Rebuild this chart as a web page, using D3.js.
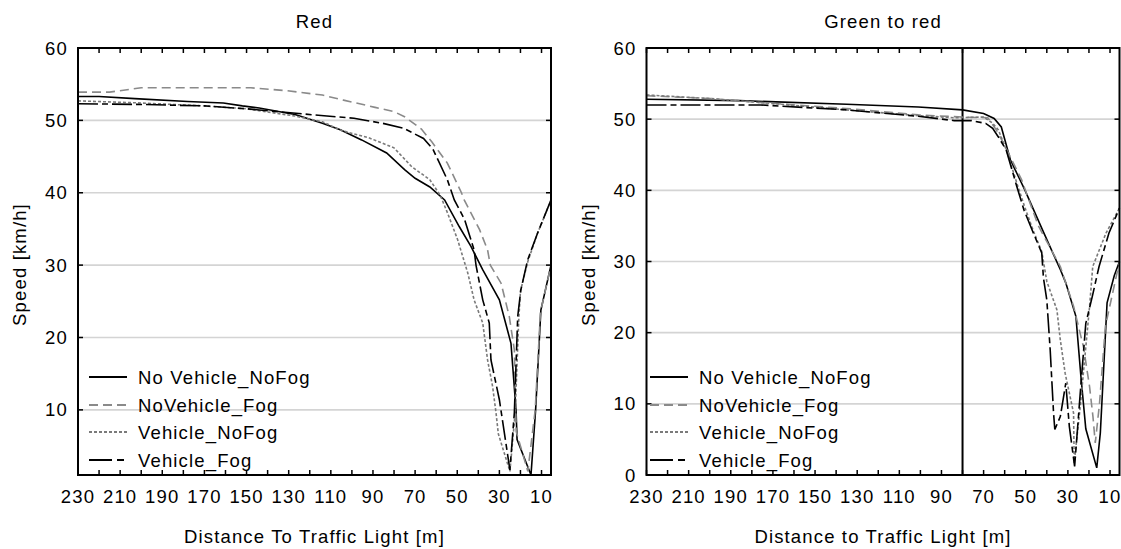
<!DOCTYPE html>
<html>
<head>
<meta charset="utf-8">
<script src="https://cdn.jsdelivr.net/npm/d3@7"></script>
<style>
    body { margin: 0; background: #fff; }
    text { font-family: "Liberation Sans", Arial, sans-serif; font-size: 18.5px; letter-spacing: 1.15px; fill: #000; }
</style>
</head>
<body>
<div id="canvas"></div>
<script>
"use strict";

/* ---------------- DATA ---------------- */

let seriesNames = ["No Vehicle_NoFog", "NoVehicle_Fog", "Vehicle_NoFog", "Vehicle_Fog"];

// panel "Red"
let redNoVehNoFogDist = [230, 220, 203, 178, 161, 152, 144, 127, 114, 105.5, 95.4, 83.5, 75, 70, 63, 56, 49, 43.5, 38, 30, 24.5, 22.1, 21.6, 15, 12.8, 10.3, 5.5];
let redNoVehNoFogSpeed = [53.3, 53.3, 53.0, 52.6, 52.4, 52.0, 51.7, 50.8, 49.6, 48.7, 47.3, 45.5, 43.2, 42.0, 40.8, 39.0, 35.3, 32.6, 29.4, 25.2, 19.2, 10, 5.9, 1, 10, 23.8, 30];

let redNoVehFogDist = [230, 215, 200, 170, 148, 131, 114, 104, 89, 80, 75, 67, 62, 54.7, 48, 46.7, 39.4, 35.6, 34.3, 29.2, 25.3, 22.9, 22, 16.5, 13, 10.5, 5.5];
let redNoVehFogSpeed = [53.9, 53.9, 54.5, 54.5, 54.5, 54.1, 53.5, 52.8, 51.8, 51.2, 50.5, 48.8, 47, 44.1, 40, 39, 34.9, 32.1, 30, 27.5, 22.9, 18.3, 7, 1.5, 10, 23.5, 30];

let redVehNoFogDist = [230, 200, 170, 150, 127, 114, 105, 92, 80, 71.6, 63, 58, 54.6, 49.8, 45, 42, 37.9, 35.6, 33.2, 31.6, 30.5, 25, 22.5, 20.8, 20, 16.5, 11.9, 5.5];
let redVehNoFogSpeed = [52.7, 52.4, 52.0, 51.6, 50.6, 49.8, 48.6, 47.6, 46.2, 43.6, 41.8, 39.6, 37.2, 33.5, 28.9, 25.2, 22, 16.9, 13.2, 9.6, 6.7, 1.5, 9.6, 22.5, 26.4, 30.5, 34.4, 39];

let redVehFogDist = [230, 200, 170, 150, 116, 99, 85.5, 75.4, 66, 61.5, 54.7, 51.4, 46.5, 42, 41.1, 37.9, 34.8, 34, 30, 25, 22.9, 21.3, 19.8, 16.6, 11.9, 5.5];
let redVehFogSpeed = [52.3, 52.2, 52.0, 51.6, 50.7, 50.3, 49.6, 48.9, 47.5, 46, 41.8, 39, 36.3, 32.1, 30, 25.2, 22, 16.9, 11.4, 1.7, 9.6, 22.9, 26.6, 30.7, 34.4, 39];

// panel "Green to red"
let grnNoVehNoFogDist = [230, 186, 135, 101, 80, 70, 65, 61.6, 57.3, 50.5, 42, 33.5, 31, 26.2, 23.8, 21.5, 16.3, 14.6, 11.4, 8, 5.5];
let grnNoVehNoFogSpeed = [52.8, 52.6, 52.1, 51.7, 51.3, 50.8, 50.1, 48.9, 44.3, 40.1, 34.4, 28.8, 27, 22.3, 13.8, 6.5, 1, 5.9, 24.2, 28, 30];

let grnNoVehFogDist = [230, 200, 170, 135, 101, 80, 68, 64, 60.5, 52, 44, 33.6, 27.3, 22.6, 19.7, 18.1, 17, 15, 12.2, 6, 5.5];
let grnNoVehFogSpeed = [53.3, 52.9, 52.2, 51.5, 50.6, 50.3, 50.2, 48.5, 46.6, 41.5, 35, 29.3, 23.7, 18, 12.4, 8.2, 4.5, 10, 20.9, 29.3, 30];

let grnVehNoFogDist = [230, 200, 170, 135, 101, 84, 70, 66, 63, 59, 54, 50.3, 46.4, 42.4, 40, 35.2, 33.6, 31.3, 27.3, 27, 24, 19.7, 18.2, 11.9, 5.5];
let grnVehNoFogSpeed = [53.4, 52.9, 52.2, 51.3, 50.5, 50.2, 50.3, 49.5, 48.5, 45.5, 40.8, 37.5, 34.3, 31.4, 27.2, 23.2, 19, 14.3, 8.7, 1.7, 10, 23.7, 29.3, 34, 37.5];

let grnVehFogDist = [230, 200, 176, 135, 101, 84, 75.7, 69, 65.7, 63, 59.3, 54.2, 50.8, 46.4, 42.4, 41.6, 40, 38.4, 36.8, 36.2, 33.6, 31, 29.3, 26.8, 24, 21.5, 18.4, 15.2, 10.5, 5.5];
let grnVehFogSpeed = [52.0, 52.0, 52.0, 51.3, 50.4, 49.8, 49.8, 49.4, 48.7, 47.5, 45.7, 40.5, 37.2, 34, 31.2, 27.7, 24.6, 17.6, 8.7, 6.4, 8.2, 12.9, 6.8, 1.2, 12, 21.3, 25.1, 29.3, 34, 37.5];

// axes
let xTickValues = [230, 220, 210, 200, 190, 180, 170, 160, 150, 140, 130, 120, 110, 100, 90, 80, 70, 60, 50, 40, 30, 20, 10];
let xTickLabels = [230, 210, 190, 170, 150, 130, 110, 90, 70, 50, 30, 10];
let redYTicks = [10, 20, 30, 40, 50, 60];
let grnYTicks = [0, 10, 20, 30, 40, 50, 60];
let markerDistance = 80;

let svgWidth = 1121;
let svgHeight = 549;

let svg = d3.select("#canvas")
    .append("svg")
    .attr("width", svgWidth)
    .attr("height", svgHeight);

svg.append("rect")
    .attr("width", svgWidth)
    .attr("height", svgHeight)
    .attr("fill", "#fff");

/* ---------------- STYLES ---------------- */

let lineStyles = [
    { color: "#000", dash: null },
    { color: "#8a8a8a", dash: "9,5" },
    { color: "#7a7a7a", dash: "3,2" },
    { color: "#000", dash: "20,4,6,4" }
];

/* ---------------- ZIP ---------------- */

function zip(dist, speed) {
    return dist.map(function (d, i) {
        return { dist: d, speed: speed[i] };
    });
}

/* ---------------- PANEL ---------------- */

function drawPanel(cfg) {

    let g = svg.append("g");

    let xScale = d3.scaleLinear()
        .domain([230, 5.5])
        .range([cfg.left, cfg.right]);

    let yScale = d3.scaleLinear()
        .domain([cfg.yMin, 60])
        .range([cfg.bottom, cfg.top]);

    // grid
    g.selectAll(".grid")
        .data(cfg.yTicks.filter(function (v) { return v > cfg.yMin && v < 60; }))
        .enter()
        .append("line")
        .attr("x1", cfg.left)
        .attr("x2", cfg.right)
        .attr("y1", function (d) { return yScale(d); })
        .attr("y2", function (d) { return yScale(d); })
        .attr("stroke", "#d4d4d4")
        .attr("stroke-width", 1.6);

    // ticks inside the box
    let tickLen = 5;
    xTickValues.forEach(function (v) {
        let x = xScale(v);
        g.append("line")
            .attr("x1", x).attr("x2", x)
            .attr("y1", cfg.bottom).attr("y2", cfg.bottom - tickLen)
            .attr("stroke", "#000").attr("stroke-width", 1.5);
        g.append("line")
            .attr("x1", x).attr("x2", x)
            .attr("y1", cfg.top).attr("y2", cfg.top + tickLen)
            .attr("stroke", "#000").attr("stroke-width", 1.5);
    });
    cfg.yTicks.forEach(function (v) {
        let y = yScale(v);
        g.append("line")
            .attr("x1", cfg.left).attr("x2", cfg.left + tickLen)
            .attr("y1", y).attr("y2", y)
            .attr("stroke", "#000").attr("stroke-width", 1.5);
        g.append("line")
            .attr("x1", cfg.right).attr("x2", cfg.right - tickLen)
            .attr("y1", y).attr("y2", y)
            .attr("stroke", "#000").attr("stroke-width", 1.5);
    });

    // tick labels
    g.selectAll(".xlab")
        .data(xTickLabels)
        .enter()
        .append("text")
        .attr("x", function (d) { return xScale(d); })
        .attr("y", cfg.bottom + 28)
        .attr("text-anchor", "middle")
        .text(function (d) { return d; });

    g.selectAll(".ylab")
        .data(cfg.yTicks)
        .enter()
        .append("text")
        .attr("x", cfg.left - 10)
        .attr("y", function (d) { return yScale(d) + 6.5; })
        .attr("text-anchor", "end")
        .text(function (d) { return d; });

    // marker line
    if (cfg.marker) {
        g.append("line")
            .attr("x1", xScale(cfg.marker)).attr("x2", xScale(cfg.marker))
            .attr("y1", cfg.top).attr("y2", cfg.bottom)
            .attr("stroke", "#000")
            .attr("stroke-width", 2);
    }

    // series
    let line = d3.line()
        .x(function (d) { return xScale(d.dist); })
        .y(function (d) { return yScale(d.speed); });

    cfg.series.forEach(function (s, i) {
        g.append("path")
            .datum(s)
            .attr("d", line)
            .attr("fill", "none")
            .attr("stroke", lineStyles[i].color)
            .attr("stroke-width", 1.6)
            .attr("stroke-dasharray", lineStyles[i].dash);
    });

    // frame
    g.append("rect")
        .attr("x", cfg.left)
        .attr("y", cfg.top)
        .attr("width", cfg.right - cfg.left)
        .attr("height", cfg.bottom - cfg.top)
        .attr("fill", "none")
        .attr("stroke", "#000")
        .attr("stroke-width", 2);

    // legend
    let rowY = [377, 405, 432, 460];
    seriesNames.forEach(function (name, i) {
        g.append("line")
            .attr("x1", cfg.legendX).attr("x2", cfg.legendX + 38)
            .attr("y1", rowY[i]).attr("y2", rowY[i])
            .attr("stroke", lineStyles[i].color)
            .attr("stroke-width", 1.8)
            .attr("stroke-dasharray", i === 3 ? "23,5,7,5" : lineStyles[i].dash);
        g.append("text")
            .attr("x", cfg.legendX + 49)
            .attr("y", rowY[i] + 7)
            .text(name);
    });

    // titles
    let midX = (cfg.left + cfg.right) / 2;
    g.append("text")
        .attr("x", midX)
        .attr("y", 28)
        .attr("text-anchor", "middle")
        .text(cfg.title);

    g.append("text")
        .attr("x", midX)
        .attr("y", 543)
        .attr("text-anchor", "middle")
        .text(cfg.xTitle);

    g.append("text")
        .attr("transform", "translate(" + cfg.yTitleX + "," + ((cfg.top + cfg.bottom) / 2 + 3) + ") rotate(-90)")
        .attr("text-anchor", "middle")
        .text("Speed [km/h]");
}

/* ---------------- DRAW ---------------- */

drawPanel({
    title: "Red",
    xTitle: "Distance To Traffic Light [m]",
    left: 78, right: 551, top: 48, bottom: 475,
    yMin: 1,
    yTicks: redYTicks,
    yTitleX: 26,
    legendX: 89,
    marker: null,
    series: [
        zip(redNoVehNoFogDist, redNoVehNoFogSpeed),
        zip(redNoVehFogDist, redNoVehFogSpeed),
        zip(redVehNoFogDist, redVehNoFogSpeed),
        zip(redVehFogDist, redVehFogSpeed)
    ]
});

drawPanel({
    title: "Green to red",
    xTitle: "Distance to Traffic Light [m]",
    left: 646.5, right: 1119.5, top: 48, bottom: 475,
    yMin: 0,
    yTicks: grnYTicks,
    yTitleX: 595,
    legendX: 650,
    marker: markerDistance,
    series: [
        zip(grnNoVehNoFogDist, grnNoVehNoFogSpeed),
        zip(grnNoVehFogDist, grnNoVehFogSpeed),
        zip(grnVehNoFogDist, grnVehNoFogSpeed),
        zip(grnVehFogDist, grnVehFogSpeed)
    ]
});
</script>
</body>
</html>
